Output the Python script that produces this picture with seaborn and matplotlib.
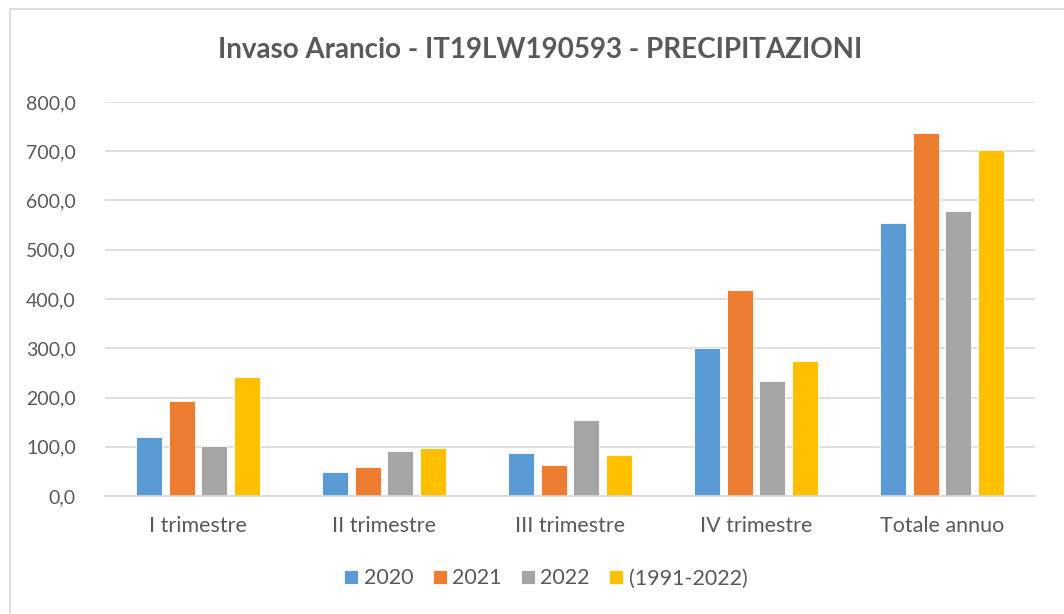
import numpy as np
import pandas as pd
import seaborn as sns
import matplotlib.pyplot as plt
from matplotlib.patches import Rectangle
from matplotlib.ticker import FuncFormatter

# dati (mm)
categorie = ['I trimestre', 'II trimestre', 'III trimestre', 'IV trimestre', 'Totale annuo']
serie = ['2020', '2021', '2022', '(1991-2022)']
v2020 = [119, 48, 87, 301, 555]
v2021 = [194, 60, 63, 418, 736]
v2022 = [101, 91, 154, 233, 579]
vclima = [242, 98, 84, 275, 703]
colori = ['#5B9BD5', '#ED7D31', '#A5A5A5', '#FFC000']

df = pd.DataFrame({
    'categoria': categorie * 4,
    'serie': np.repeat(serie, len(categorie)),
    'valore': v2020 + v2021 + v2022 + vclima,
})

sns.set_style('white')
plt.rcParams['font.family'] = ['Lato', 'DejaVu Sans']

fig = plt.figure(figsize=(10.64, 6.14), dpi=100)
ax = fig.add_axes([0.0987, 0.192, 0.874, 0.642])

sns.barplot(data=df, x='categoria', y='valore', hue='serie', order=categorie,
            hue_order=serie, palette=colori, width=0.7, gap=0.2, ax=ax,
            edgecolor='white', linewidth=0.6, saturation=1)

ax.set_ylim(0, 800)
ax.set_yticks(range(0, 801, 100))
ax.yaxis.set_major_formatter(FuncFormatter(lambda v, p: f'{v:.1f}'.replace('.', ',')))
ax.grid(axis='y', color='#D9D9D9', linewidth=1.2)
ax.set_axisbelow(True)
for s in ['top', 'right', 'left']:
    ax.spines[s].set_visible(False)
ax.spines['bottom'].set_color('#D9D9D9')
ax.spines['bottom'].set_linewidth(1.2)
ax.tick_params(axis='both', length=0, colors='#595959')
ax.tick_params(axis='x', labelsize=15.5, pad=14)
ax.tick_params(axis='y', labelsize=14, pad=21)
ax.set_xlabel('')
ax.set_ylabel('')

fig.text(0.508, 0.918, 'Invaso Arancio - IT19LW190593 - PRECIPITAZIONI',
         ha='center', va='center', fontsize=20, fontweight='bold', color='#595959')

handles, labels = ax.get_legend_handles_labels()
ax.legend(handles, labels, loc='center', bbox_to_anchor=(0.513, 0.058),
          bbox_transform=fig.transFigure, ncol=4, frameon=False,
          fontsize=15.5, labelcolor='#595959', handlelength=0.65,
          handleheight=0.65, handletextpad=0.25, columnspacing=0.9)

fig.patches.append(Rectangle((0.0095, -0.01), 1.0, 0.995, transform=fig.transFigure,
                             fill=False, edgecolor='#D9D9D9', linewidth=1.2))

fig.savefig('out.png', dpi=100, facecolor='white')
